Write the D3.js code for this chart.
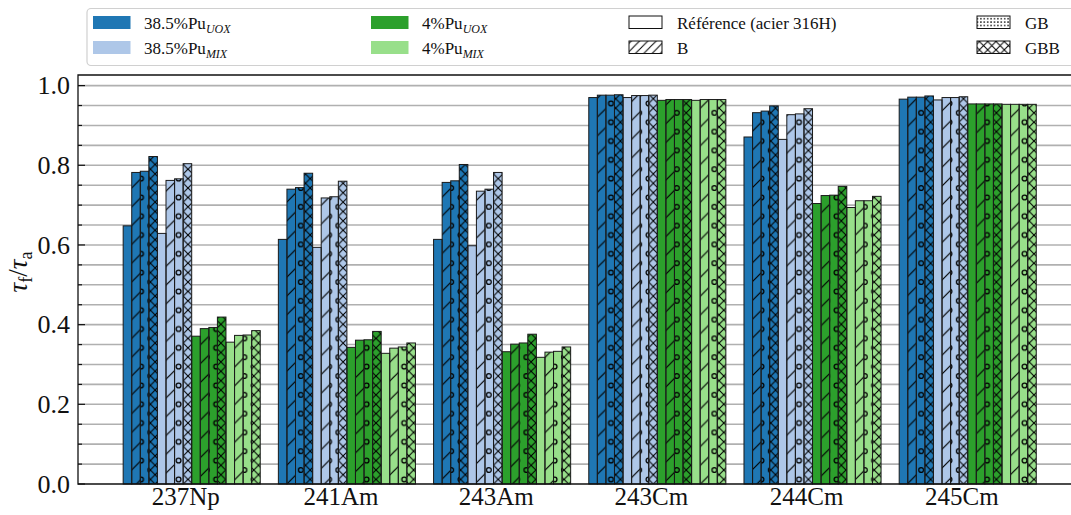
<!DOCTYPE html>
<html><head><meta charset="utf-8">
<script src="https://cdn.jsdelivr.net/npm/d3@7"></script>
<style>
html,body{margin:0;padding:0;background:#fff;}
svg{display:block;font-family:"Liberation Serif","DejaVu Serif",serif;}
</style></head>
<body><svg id="chart" width="1071" height="515"></svg>
<script>
// ---------------- data ----------------
const categories = ["237Np","241Am","243Am","243Cm","244Cm","245Cm"];
const yTickValues = [0, 0.2, 0.4, 0.6, 0.8, 1.0];
const treatments = ["Référence (acier 316H)","B","GB","GBB"];

const uox385_ref = [0.648, 0.614, 0.614, 0.970, 0.871, 0.966];
const uox385_B   = [0.782, 0.740, 0.757, 0.976, 0.932, 0.971];
const uox385_GB  = [0.785, 0.744, 0.761, 0.976, 0.936, 0.971];
const uox385_GBB = [0.822, 0.780, 0.802, 0.977, 0.949, 0.974];
const mix385_ref = [0.629, 0.594, 0.598, 0.970, 0.865, 0.964];
const mix385_B   = [0.762, 0.718, 0.735, 0.975, 0.927, 0.970];
const mix385_GB  = [0.766, 0.721, 0.740, 0.975, 0.929, 0.970];
const mix385_GBB = [0.804, 0.760, 0.782, 0.976, 0.942, 0.972];
const uox4_ref   = [0.371, 0.343, 0.332, 0.963, 0.704, 0.954];
const uox4_B     = [0.390, 0.361, 0.351, 0.965, 0.724, 0.954];
const uox4_GB    = [0.393, 0.362, 0.354, 0.965, 0.725, 0.954];
const uox4_GBB   = [0.419, 0.383, 0.376, 0.965, 0.747, 0.954];
const mix4_ref   = [0.356, 0.328, 0.318, 0.963, 0.694, 0.953];
const mix4_B     = [0.373, 0.341, 0.331, 0.965, 0.711, 0.953];
const mix4_GB    = [0.374, 0.344, 0.333, 0.965, 0.711, 0.953];
const mix4_GBB   = [0.385, 0.354, 0.344, 0.965, 0.722, 0.953];

const seriesNames = ["38.5%Pu|UOX","38.5%Pu|MIX","4%Pu|UOX","4%Pu|MIX"];
const seriesColors = ["#1f77b4","#aec7e8","#2ca02c","#98df8a"];
const seriesValues = [
  [uox385_ref, uox385_B, uox385_GB, uox385_GBB],
  [mix385_ref, mix385_B, mix385_GB, mix385_GBB],
  [uox4_ref, uox4_B, uox4_GB, uox4_GBB],
  [mix4_ref, mix4_B, mix4_GB, mix4_GBB]
];

// ---------------- layout ----------------
const svg = d3.select("#chart");
const L = 78, R = 1071, T = 75, B = 484;
const x = d3.scaleLinear().domain([-0.691, 5.707]).range([L, R]);
const y = d3.scaleLinear().domain([0, 1.0266]).range([B, T]);
const barW = 0.0552, groupStart = -0.4;

// patterns
const defs = svg.append("defs");
const P = 18.8;
function pat(id, size, draw){
  const p = defs.append("pattern").attr("id", id).attr("patternUnits","userSpaceOnUse")
    .attr("width", size).attr("height", size);
  draw(p, size);
}
pat("hB", P, (p,s)=>{
  p.append("path").attr("d",`M0,${s} L${s},0 M${-s/2},${s/2} L${s/2},${-s/2} M${s/2},${s*1.5} L${s*1.5},${s/2}`)
   .attr("stroke","#000").attr("stroke-width",1.2).attr("fill","none");
});
pat("hGB", P, (p,s)=>{
  [[0,0],[s,0],[0,s],[s,s],[s/2,s/2]].forEach(([cx,cy])=>{
    p.append("circle").attr("cx",cx).attr("cy",cy).attr("r",2.4)
     .attr("stroke","#000").attr("stroke-width",1.3).attr("fill","none");
  });
});
pat("hGBB", P/2, (p,s)=>{
  p.append("path").attr("d",`M0,0 L${s},${s} M0,${s} L${s},0`)
   .attr("stroke","#000").attr("stroke-width",1.1).attr("fill","none");
});
// legend (denser) patterns
pat("lB", 8.3, (p,s)=>{
  p.append("path").attr("d",`M0,${s} L${s},0 M${-s/2},${s/2} L${s/2},${-s/2} M${s/2},${s*1.5} L${s*1.5},${s/2}`)
   .attr("stroke","#000").attr("stroke-width",1).attr("fill","none");
});
pat("lGB", 3.4, (p,s)=>{
  p.append("circle").attr("cx",1.7).attr("cy",1.7).attr("r",0.75).attr("fill","#000");
});
pat("lGBB", 8.3, (p,s)=>{
  p.append("path").attr("d",`M0,0 L${s},${s} M0,${s} L${s},0`)
   .attr("stroke","#000").attr("stroke-width",1).attr("fill","none");
});
const hatchIds = [null, "hB", "hGB", "hGBB"];
const legHatchIds = [null, "lB", "lGB", "lGBB"];

// grid lines every 0.05
const gridVals = d3.range(0, 21).map(i => i * 0.05);
svg.append("g").selectAll("line").data(gridVals.filter(v => v > 0)).join("line")
  .attr("x1", L).attr("x2", R).attr("y1", d => y(d)).attr("y2", d => y(d))
  .attr("stroke", "#b0b0b0").attr("stroke-width", 1.6);

// bars
const barData = [];
categories.forEach((c, gi) => {
  seriesValues.forEach((sv, si) => {
    sv.forEach((arr, ti) => {
      const j = si * 4 + ti;
      barData.push({gi, si, ti, v: arr[gi], x0: gi + groupStart + j * barW});
    });
  });
});
const bars = svg.append("g");
bars.selectAll("rect.fill").data(barData).join("rect").attr("class","fill")
  .attr("x", d => x(d.x0)).attr("width", d => x(d.x0 + barW) - x(d.x0))
  .attr("y", d => y(d.v)).attr("height", d => y(0) - y(d.v))
  .attr("fill", d => seriesColors[d.si]);
bars.selectAll("rect.hatch").data(barData.filter(d => d.ti > 0)).join("rect").attr("class","hatch")
  .attr("x", d => x(d.x0)).attr("width", d => x(d.x0 + barW) - x(d.x0))
  .attr("y", d => y(d.v)).attr("height", d => y(0) - y(d.v))
  .attr("fill", d => `url(#${hatchIds[d.ti]})`);
bars.selectAll("rect.edge").data(barData).join("rect").attr("class","edge")
  .attr("x", d => x(d.x0)).attr("width", d => x(d.x0 + barW) - x(d.x0))
  .attr("y", d => y(d.v)).attr("height", d => y(0) - y(d.v))
  .attr("fill", "none").attr("stroke", "#1a1a1a").attr("stroke-width", 1);

// axes
const yAxis = d3.axisLeft(y).tickValues(yTickValues).tickFormat(d3.format(".1f")).tickSize(0).tickPadding(8);
const gy = svg.append("g").attr("transform", `translate(${L},0)`).call(yAxis);
gy.select(".domain").remove();
gy.selectAll("text").attr("font-size", 26).attr("fill", "#111")
  .attr("font-family", '"Liberation Serif",serif').attr("x", -8);
// inward ticks
svg.append("g").selectAll("line").data(gridVals).join("line")
  .attr("x1", L).attr("x2", d => L + (Math.abs(d*5 - Math.round(d*5)) < 1e-6 ? 7 : 4))
  .attr("y1", d => y(d)).attr("y2", d => y(d)).attr("stroke", "#111").attr("stroke-width", 1.2);

const xAxis = d3.axisBottom(x).tickValues(d3.range(categories.length)).tickFormat(i => categories[i]).tickSize(0).tickPadding(10);
const gx = svg.append("g").attr("transform", `translate(0,${B})`).call(xAxis);
gx.select(".domain").remove();
gx.selectAll("text").attr("font-size", 25).attr("fill", "#111").attr("font-family", '"Liberation Serif",serif')
  .attr("y", 21).attr("dy", null);

// spines
svg.append("path").attr("d", `M${R+1},${T} L${L},${T} L${L},${B} L${R+1},${B}`)
  .attr("fill", "none").attr("stroke", "#111").attr("stroke-width", 1.3);

// y label
const yl = svg.append("text").attr("transform", "translate(27,272) rotate(-90)")
  .attr("text-anchor", "middle").attr("font-size", 27).attr("fill", "#111");
yl.append("tspan").attr("font-style", "italic").text("τ");
yl.append("tspan").attr("font-size", 18).attr("dy", 5).text("f");
yl.append("tspan").attr("dy", -5).text("/");
yl.append("tspan").attr("font-style", "italic").text("τ");
yl.append("tspan").attr("font-size", 18).attr("dy", 5).text("a");

// legend
const lg = svg.append("g");
lg.append("rect").attr("x", 87).attr("y", 8.5).attr("width", 1000).attr("height", 57)
  .attr("rx", 4).attr("fill", "#fff").attr("stroke", "#d0d0d0").attr("stroke-width", 1.2);
const colX = [93, 371];
const rowY = [16, 41];
seriesNames.forEach((n, i) => {
  const cx = colX[Math.floor(i / 2)], ry = rowY[i % 2];
  lg.append("rect").attr("x", cx).attr("y", ry).attr("width", 37.5).attr("height", 13).attr("fill", seriesColors[i]);
  const [main, sub] = n.split("|");
  const t = lg.append("text").attr("x", cx + 51).attr("y", ry + 13).attr("font-size", 17).attr("fill", "#111");
  t.append("tspan").text(main);
  t.append("tspan").attr("font-size", 12).attr("font-style", "italic").attr("dy", 4).text(sub);
});
const colX2 = [629, 977];
treatments.forEach((n, i) => {
  const cx = colX2[Math.floor(i / 2)], ry = rowY[i % 2];
  lg.append("rect").attr("x", cx).attr("y", ry).attr("width", 33).attr("height", 12.5).attr("fill", "#fff");
  if (legHatchIds[i]) lg.append("rect").attr("x", cx).attr("y", ry).attr("width", 33).attr("height", 12.5).attr("fill", `url(#${legHatchIds[i]})`);
  lg.append("rect").attr("x", cx).attr("y", ry).attr("width", 33).attr("height", 12.5)
    .attr("fill", "none").attr("stroke", "#111").attr("stroke-width", 1);
  lg.append("text").attr("x", cx + 48).attr("y", ry + 12.5).attr("font-size", 17).attr("fill", "#111").text(n);
});
</script></body></html>
